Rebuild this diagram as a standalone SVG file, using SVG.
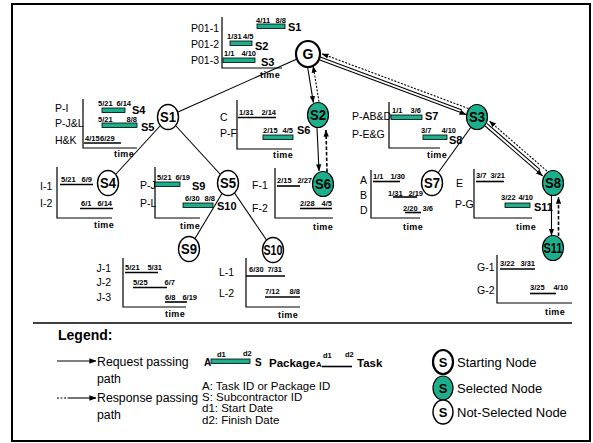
<svg xmlns="http://www.w3.org/2000/svg" width="593" height="443" viewBox="0 0 593 443">
<defs>
<style>
text{font-family:"Liberation Sans",Arial,sans-serif;fill:#000}
.lbl{font-size:10.5px}
.d{font-size:7.5px;font-weight:bold}
.de{font-size:7.5px;font-weight:bold;text-anchor:end}
.sub{font-size:11px;font-weight:bold}
.tm{font-size:9px;font-weight:bold;letter-spacing:0.4px}
.nt{font-size:14px;font-weight:bold;text-anchor:middle}
.bar{fill:#1BAF8B;stroke:#000;stroke-width:0.8}
.ax{stroke:#000;stroke-width:1.2;fill:none}
.ul{stroke:#000;stroke-width:1.6}
.w{fill:#fff;stroke:#000;stroke-width:1.4}
.sel{fill:#1BAF8B;stroke:#000;stroke-width:1.2}
.st{fill:#fff;stroke:#000;stroke-width:2.2}
.req{stroke:#000;stroke-width:1.1;fill:none}
.dot{stroke:#000;stroke-width:1.1;fill:none;stroke-dasharray:2 1.5}
.dash{stroke:#000;stroke-width:1.6;fill:none;stroke-dasharray:3.5 2}
.leg{font-size:12.3px}
.leg2{font-size:11.5px}
.legn{font-size:13px}
</style>
<marker id="ah" viewBox="0 0 10 10" refX="9.5" refY="5" markerWidth="7" markerHeight="7" orient="auto" markerUnits="userSpaceOnUse"><path d="M0,1.2 L10,5 L0,8.8 z" fill="#000"/></marker>
</defs>
<rect x="0" y="0" width="593" height="443" fill="#fff"/>
<rect x="12" y="4" width="578" height="437" fill="none" stroke="#000" stroke-width="2"/>

<g id="connectors">
<line class="req" x1="297" y1="59" x2="178" y2="112"/>
<line class="req" x1="160" y1="126" x2="116" y2="174"/>
<line class="req" x1="176" y1="126" x2="220" y2="174"/>
<line class="req" x1="222" y1="193.5" x2="195" y2="238.5"/>
<line class="req" x1="234.5" y1="193" x2="266.5" y2="240"/>
<line class="req" x1="471" y1="127" x2="438" y2="173"/>
<line class="req" x1="307.6" y1="67" x2="313.4" y2="102.6" marker-end="url(#ah)"/>
<line class="dot" x1="319" y1="101.7" x2="313.2" y2="66" marker-end="url(#ah)"/>
<line class="req" x1="319.2" y1="59.7" x2="466.2" y2="114.6" marker-end="url(#ah)"/>
<line class="req" x1="320.2" y1="56.9" x2="462" y2="110"/>
<line class="dot" x1="468.4" y1="108.5" x2="321.9" y2="53.8" marker-end="url(#ah)"/>
<line class="req" x1="485.1" y1="126" x2="542.6" y2="175.9" marker-end="url(#ah)"/>
<line class="req" x1="487.1" y1="123.7" x2="540" y2="169.6"/>
<line class="dot" x1="546.9" y1="171" x2="489.4" y2="121.1" marker-end="url(#ah)"/>
<line class="req" x1="317" y1="128" x2="319" y2="171" marker-end="url(#ah)"/>
<line class="dash" x1="327" y1="172" x2="326" y2="130" marker-end="url(#ah)"/>
<line class="req" x1="551.5" y1="196" x2="551.5" y2="235.5" marker-end="url(#ah)"/>
<line class="dash" x1="558.5" y1="236" x2="558.5" y2="197" marker-end="url(#ah)"/>
</g>

<g id="chart-G">
<path class="ax" d="M222,17 V68 H282"/>
<text class="lbl" x="219" y="32" text-anchor="end">P01-1</text>
<text class="lbl" x="219" y="48" text-anchor="end">P01-2</text>
<text class="lbl" x="219" y="64" text-anchor="end">P01-3</text>
<rect class="bar" x="257" y="24" width="28" height="4.5"/>
<text class="d" x="256" y="23">4/11</text><text class="de" x="286" y="23">8/8</text>
<text class="sub" x="288" y="31">S1</text>
<rect class="bar" x="230" y="41" width="22" height="4.5"/>
<text class="d" x="227" y="39">1/31</text><text class="de" x="253.5" y="39">4/5</text>
<text class="sub" x="255" y="50">S2</text>
<rect class="bar" x="223" y="58" width="32" height="4.5"/>
<text class="d" x="224" y="56">1/1</text><text class="de" x="256" y="56">4/10</text>
<text class="sub" x="261" y="66">S3</text>
<text class="tm" x="260" y="78">time</text>
</g>

<g id="chart-S1">
<path class="ax" d="M83,99 V148 H137"/>
<text class="lbl" x="55" y="112">P-I</text>
<text class="lbl" x="55" y="127">P-J&amp;L</text>
<text class="lbl" x="55" y="144">H&amp;K</text>
<rect class="bar" x="102" y="108" width="23" height="4.5"/>
<text class="d" x="98" y="105.5">5/21</text><text class="de" x="131" y="105.5">6/14</text>
<text class="sub" x="132" y="114" font-size="10.5">S4</text>
<rect class="bar" x="102" y="123" width="35" height="4.5"/>
<text class="d" x="98" y="121.5">5/21</text><text class="de" x="137" y="121.5">8/8</text>
<text class="sub" x="141" y="131">S5</text>
<text class="d" x="85" y="141">4/15</text><text class="d" x="100" y="141">6/29</text>
<line class="ul" x1="84" y1="143" x2="121" y2="143"/>
<text class="tm" x="114" y="157">time</text>
</g>

<g id="chart-S2">
<path class="ax" d="M237,100 V149 H292"/>
<text class="lbl" x="220" y="121">C</text>
<text class="lbl" x="220" y="137">P-F</text>
<text class="d" x="239" y="115">1/31</text><text class="de" x="276" y="115">2/14</text>
<line class="ul" x1="238" y1="117.5" x2="276" y2="117.5"/>
<rect class="bar" x="263" y="135" width="30" height="4.5"/>
<text class="d" x="263" y="133">2/15</text><text class="de" x="293" y="133">4/5</text>
<text class="sub" x="297" y="134">S6</text>
<text class="tm" x="273" y="158">time</text>
</g>

<g id="chart-S3">
<path class="ax" d="M389,102 V148 H440"/>
<text class="lbl" x="352" y="120">P-AB&amp;D</text>
<text class="lbl" x="352" y="138">P-E&amp;G</text>
<rect class="bar" x="391" y="115" width="31" height="4.5"/>
<text class="d" x="392" y="113">1/1</text><text class="de" x="421" y="113">3/6</text>
<text class="sub" x="425" y="120">S7</text>
<rect class="bar" x="423" y="135" width="24" height="4.5"/>
<text class="d" x="421" y="133">3/7</text><text class="de" x="456" y="133">4/10</text>
<text class="sub" x="449" y="144">S8</text>
<text class="tm" x="427" y="158">time</text>
</g>

<g id="chart-S4">
<path class="ax" d="M57,167 V218 H112"/>
<text class="lbl" x="40" y="190">I-1</text>
<text class="lbl" x="40" y="207">I-2</text>
<text class="d" x="61" y="182">5/21</text><text class="de" x="92" y="182">6/9</text>
<line class="ul" x1="60" y1="184.5" x2="93" y2="184.5"/>
<text class="d" x="81" y="206">6/1</text><text class="de" x="112" y="206">6/14</text>
<line class="ul" x1="80" y1="208.5" x2="113" y2="208.5"/>
<text class="tm" x="94" y="228">time</text>
</g>

<g id="chart-S5">
<path class="ax" d="M155,167 V218 H200"/>
<text class="lbl" x="140" y="189">P-J</text>
<text class="lbl" x="140" y="207">P-L</text>
<rect class="bar" x="155" y="182" width="25" height="4.5"/>
<text class="d" x="157" y="180">5/21</text><text class="de" x="190" y="180">6/19</text>
<text class="sub" x="192" y="190">S9</text>
<rect class="bar" x="183" y="203" width="30" height="4.5"/>
<text class="d" x="185" y="201">6/30</text><text class="de" x="215" y="201">8/8</text>
<text class="sub" x="217" y="210">S10</text>
<text class="tm" x="180" y="229">time</text>
</g>

<g id="chart-S6">
<path class="ax" d="M275,168 V218 H333"/>
<text class="lbl" x="252" y="189">F-1</text>
<text class="lbl" x="252" y="212">F-2</text>
<text class="d" x="277" y="183">2/15</text><text class="de" x="312" y="183">2/27</text>
<line class="ul" x1="277" y1="186" x2="300" y2="186"/>
<text class="d" x="300" y="206">2/28</text><text class="de" x="332" y="206">4/5</text>
<line class="ul" x1="300" y1="208.5" x2="332" y2="208.5"/>
<text class="tm" x="313" y="230">time</text>
</g>

<g id="chart-S7">
<path class="ax" d="M371,170 V218 H420"/>
<text class="lbl" x="360" y="184">A</text>
<text class="lbl" x="360" y="199">B</text>
<text class="lbl" x="360" y="214">D</text>
<text class="d" x="373" y="179">1/1</text><text class="de" x="405" y="179">1/30</text>
<line class="ul" x1="373" y1="181.5" x2="400" y2="181.5"/>
<text class="d" x="388" y="196">1/31</text><text class="de" x="423" y="196">2/19</text>
<line class="ul" x1="393" y1="197" x2="417" y2="197"/>
<text class="d" x="403" y="211">2/20</text><text class="de" x="433" y="211">3/6</text>
<line class="ul" x1="405" y1="212.5" x2="421" y2="212.5"/>
<text class="tm" x="403" y="230">time</text>
</g>

<g id="chart-S8">
<path class="ax" d="M474,169 V218 H532"/>
<text class="lbl" x="456" y="187">E</text>
<text class="lbl" x="455" y="208">P-G</text>
<text class="d" x="476" y="178">3/7</text><text class="de" x="505" y="178">3/21</text>
<line class="ul" x1="476" y1="181.5" x2="504" y2="181.5"/>
<rect class="bar" x="505" y="203" width="25" height="4.5"/>
<text class="d" x="501" y="200">3/22</text><text class="de" x="533" y="200">4/10</text>
<text class="sub" x="534" y="211">S11</text>
<text class="tm" x="516" y="230">time</text>
</g>

<g id="chart-S9">
<path class="ax" d="M123,258 V307 H186"/>
<text class="lbl" x="111" y="272" text-anchor="end">J-1</text>
<text class="lbl" x="111" y="286" text-anchor="end">J-2</text>
<text class="lbl" x="111" y="301" text-anchor="end">J-3</text>
<text class="d" x="125" y="270">5/21</text><text class="de" x="162" y="270">5/31</text>
<line class="ul" x1="125" y1="272.5" x2="158" y2="272.5"/>
<text class="d" x="133" y="285">5/25</text><text class="de" x="175" y="285">6/7</text>
<line class="ul" x1="133" y1="287.5" x2="167" y2="287.5"/>
<text class="d" x="165" y="300">6/8</text><text class="de" x="197" y="300">6/19</text>
<line class="ul" x1="165" y1="302" x2="187" y2="302"/>
<text class="tm" x="165" y="317">time</text>
</g>

<g id="chart-S10">
<path class="ax" d="M246,258 V307 H300"/>
<text class="lbl" x="219" y="276">L-1</text>
<text class="lbl" x="219" y="297">L-2</text>
<text class="d" x="249" y="272">6/30</text><text class="de" x="282" y="272">7/31</text>
<line class="ul" x1="246" y1="276" x2="285" y2="276"/>
<text class="d" x="265" y="294">7/12</text><text class="de" x="300" y="294">8/8</text>
<line class="ul" x1="265" y1="297" x2="300" y2="297"/>
<text class="tm" x="278" y="318">time</text>
</g>

<g id="chart-S11">
<path class="ax" d="M497,255 V303 H572"/>
<text class="lbl" x="477" y="271">G-1</text>
<text class="lbl" x="477" y="294">G-2</text>
<text class="d" x="500" y="266">3/22</text><text class="de" x="535" y="266">3/31</text>
<line class="ul" x1="500" y1="269" x2="535" y2="269"/>
<text class="d" x="530" y="290">3/25</text><text class="de" x="568" y="290">4/10</text>
<line class="ul" x1="530" y1="293.5" x2="556" y2="293.5"/>
<text class="tm" x="545" y="315">time</text>
</g>

<g id="node-G"><ellipse class="st" cx="308" cy="54" rx="12" ry="13"/><text class="nt" x="308" y="59">G</text></g>
<g id="node-S1"><ellipse class="w" cx="168" cy="117" rx="10.5" ry="12.5"/><text class="nt" x="168" y="122" textLength="16" lengthAdjust="spacingAndGlyphs">S1</text></g>
<g id="node-S2"><ellipse class="sel" cx="318" cy="115" rx="10.5" ry="12.5"/><text class="nt" x="318" y="120" textLength="16" lengthAdjust="spacingAndGlyphs">S2</text></g>
<g id="node-S3"><ellipse class="sel" cx="477" cy="117" rx="10.5" ry="12.5"/><text class="nt" x="477" y="122" textLength="16" lengthAdjust="spacingAndGlyphs">S3</text></g>
<g id="node-S4"><ellipse class="w" cx="108" cy="183" rx="10.5" ry="12.5"/><text class="nt" x="108" y="188" textLength="16" lengthAdjust="spacingAndGlyphs">S4</text></g>
<g id="node-S5"><ellipse class="w" cx="228" cy="183" rx="10.5" ry="12.5"/><text class="nt" x="228" y="188" textLength="16" lengthAdjust="spacingAndGlyphs">S5</text></g>
<g id="node-S6"><ellipse class="sel" cx="323" cy="184" rx="10.5" ry="12.5"/><text class="nt" x="323" y="189" textLength="16" lengthAdjust="spacingAndGlyphs">S6</text></g>
<g id="node-S7"><ellipse class="w" cx="432" cy="183" rx="10.5" ry="12.5"/><text class="nt" x="432" y="188" textLength="16" lengthAdjust="spacingAndGlyphs">S7</text></g>
<g id="node-S8"><ellipse class="sel" cx="553" cy="183" rx="10.5" ry="12.5"/><text class="nt" x="553" y="188" textLength="16" lengthAdjust="spacingAndGlyphs">S8</text></g>
<g id="node-S9"><ellipse class="w" cx="189" cy="249" rx="10.5" ry="12.5"/><text class="nt" x="189" y="254" textLength="16" lengthAdjust="spacingAndGlyphs">S9</text></g>
<g id="node-S10"><ellipse class="w" cx="273" cy="250" rx="10.5" ry="12.5"/><text class="nt" x="273" y="255" textLength="19" lengthAdjust="spacingAndGlyphs">S10</text></g>
<g id="node-S11"><ellipse class="sel" cx="553" cy="248" rx="10.5" ry="12.5"/><text class="nt" x="553" y="253" textLength="19" lengthAdjust="spacingAndGlyphs">S11</text></g>

<g id="legend">
<line x1="33" y1="323" x2="572" y2="323" stroke="#000" stroke-width="1.5"/>
<text x="58" y="340" font-size="14" font-weight="bold">Legend:</text>
<line class="req" x1="57" y1="361" x2="96" y2="361" marker-end="url(#ah)"/>
<text class="leg" x="97" y="366">Request passing</text>
<text class="leg" x="97" y="383">path</text>
<line class="dot" x1="57" y1="398" x2="69" y2="398"/>
<line class="req" x1="69" y1="398" x2="96" y2="398" marker-end="url(#ah)"/>
<text class="leg" x="97" y="402">Response passing</text>
<text class="leg" x="97" y="419">path</text>
<text x="204" y="366" font-size="10" font-weight="bold">A</text>
<rect class="bar" x="211" y="359" width="39" height="4.5"/>
<text x="217" y="357" font-size="7.5" font-weight="bold">d1</text>
<text x="243" y="356" font-size="7.5" font-weight="bold">d2</text>
<text x="255" y="366" font-size="10" font-weight="bold">S</text>
<text x="269" y="367" font-size="11.5" font-weight="bold">Package</text>
<text x="316" y="367" font-size="8" font-weight="bold">A</text>
<line class="ul" x1="322" y1="366.5" x2="352" y2="366.5"/>
<text x="323" y="358" font-size="7.5" font-weight="bold">d1</text>
<text x="345" y="357" font-size="7.5" font-weight="bold">d2</text>
<text x="357" y="367" font-size="11.5" font-weight="bold">Task</text>
<text class="leg2" x="202" y="389.5">A: Task ID or Package ID</text>
<text class="leg2" x="202" y="400.5">S: Subcontractor ID</text>
<text class="leg2" x="202" y="412">d1: Start Date</text>
<text class="leg2" x="202" y="423.5">d2: Finish Date</text>
<ellipse class="st" cx="443" cy="362" rx="10" ry="12"/><text x="443" y="367" font-size="13" font-weight="bold" text-anchor="middle">S</text>
<text class="legn" x="457" y="366.5">Starting Node</text>
<ellipse class="sel" cx="443" cy="388" rx="10" ry="12"/><text x="443" y="393" font-size="13" font-weight="bold" text-anchor="middle">S</text>
<text class="legn" x="457" y="392.5">Selected Node</text>
<ellipse class="w" cx="443" cy="412" rx="10" ry="12"/><text x="443" y="417" font-size="13" font-weight="bold" text-anchor="middle">S</text>
<text class="legn" x="457" y="416.5">Not-Selected Node</text>
</g>
</svg>
